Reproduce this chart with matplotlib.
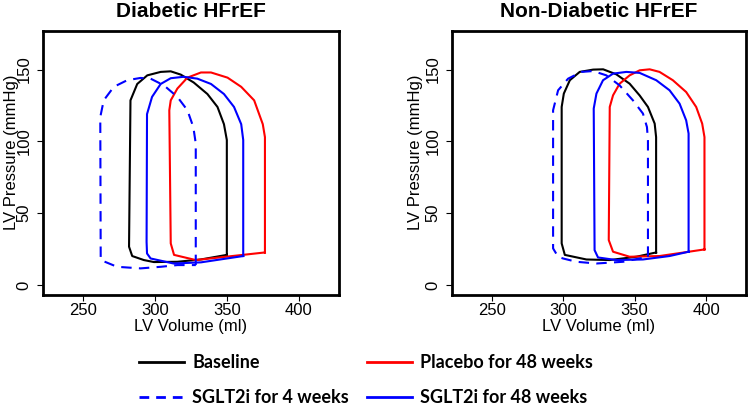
import matplotlib
matplotlib.use('Agg')
import matplotlib.pyplot as plt
from matplotlib.lines import Line2D

plt.rcParams['font.family'] = ['Liberation Sans', 'DejaVu Sans']

# LV pressure-volume loops (volume ml, pressure mmHg)
# each loop: end-diastole -> up the right side -> over the top -> down the left side -> along the bottom
dm_base_v = [350, 350, 348, 343.5, 336.5, 327, 318, 311, 304, 294.7, 287.7, 283, 282, 284.2, 292.3, 299.3, 315.6, 331.9, 350]
dm_base_p = [21, 101, 112, 124, 133, 141, 146.5, 148.8, 148.4, 146, 140, 128.6, 26.7, 20.2, 17.4, 16, 16.2, 17.8, 21]
dm_plac_v = [376.5, 376.5, 375, 369, 360, 350.5, 339, 332, 322.6, 315.6, 311, 310, 311, 313.3, 328.4, 376.5]
dm_plac_p = [22.7, 103, 112, 128.6, 138, 144.4, 148, 148, 144.4, 136.8, 128.6, 121.7, 29, 21, 17.4, 22.7]
dm_s48_v = [361.4, 361.4, 360, 355, 348, 339, 329.5, 320, 311, 304, 298, 294.5, 294.2, 294.5, 297, 313, 332, 361.4]
dm_s48_p = [20.2, 101, 112, 124, 133, 140, 143.7, 145, 144, 140, 131, 119, 30, 22, 18.5, 15, 15.8, 20.2]
dm_s4_v = [328.4, 328.4, 326.7, 322.6, 315.6, 306.3, 297, 290, 280.7, 271.4, 264.4, 262, 262.3, 273.7, 290, 304, 315.6, 328.4]
dm_s4_p = [13.9, 98.5, 110, 121.7, 131, 139, 143.7, 144.2, 142.6, 138, 128.6, 117, 17.4, 12.7, 11.6, 12.7, 13.9, 13.9]

nd_base_v = [365, 365, 364, 359.3, 353.5, 346.5, 337.2, 328, 321, 311.6, 304.7, 300.5, 299, 299, 301.2, 316.3, 332.6, 351.2, 365]
nd_base_p = [22.7, 103, 112.4, 124, 132, 140.2, 146.7, 150.2, 150, 148.4, 142.6, 133.3, 124, 29, 21, 17.8, 17.4, 19.7, 22.7]
nd_plac_v = [398.8, 398.8, 397.2, 393, 386, 376.7, 367.4, 360.5, 353.5, 346.5, 339.5, 334.9, 332.6, 331.9, 334.9, 346.5, 367.4, 398.8]
nd_plac_p = [24.8, 103, 112.4, 124, 134.4, 142.6, 148.4, 150.2, 149.5, 146, 140.2, 132.1, 124, 31.3, 23.2, 19.7, 20.2, 24.8]
nd_s48_v = [387.7, 387.7, 386, 381.4, 374.4, 365.1, 353.5, 344.2, 334.9, 327.9, 323.3, 321.4, 322, 324.4, 337.2, 355.8, 374.4, 387.7]
nd_s48_p = [23.2, 105.5, 114.7, 126.3, 135.6, 142.6, 147.7, 148.4, 147.2, 142.6, 133.3, 122.9, 24.3, 19.2, 17.4, 17.8, 20.2, 23.2]
nd_s4_v = [359.3, 359.3, 358.6, 355.8, 348.8, 339.5, 330.2, 321, 312.8, 303.5, 296.5, 293, 293, 296.5, 300, 309.3, 323.3, 341.9, 359.3]
nd_s4_p = [19.7, 100.8, 110, 119.4, 128.6, 139, 146, 149, 148.4, 143.7, 135.6, 121.7, 25.5, 19.7, 18.5, 16.2, 15, 16.2, 19.7]

titles = ['Diabetic HFrEF', 'Non-Diabetic HFrEF']
xticks = [250, 300, 350, 400]
yticks = [0, 50, 100, 150]
labels = ['Baseline', 'SGLT2i for 4 weeks', 'Placebo for 48 weeks', 'SGLT2i for 48 weeks']

dash = (0, (5, 3.5))
panels = [
    [(dm_base_v, dm_base_p, 'black', '-'), (dm_plac_v, dm_plac_p, 'red', '-'),
     (dm_s48_v, dm_s48_p, 'blue', '-'), (dm_s4_v, dm_s4_p, 'blue', dash)],
    [(nd_base_v, nd_base_p, 'black', '-'), (nd_plac_v, nd_plac_p, 'red', '-'),
     (nd_s48_v, nd_s48_p, 'blue', '-'), (nd_s4_v, nd_s4_p, 'blue', dash)],
]

fig = plt.figure(figsize=(7.5, 4.11), dpi=100)
axes = [fig.add_axes([0.057, 0.282, 0.395, 0.643]),
        fig.add_axes([0.602, 0.282, 0.393, 0.643])]
ylab_x = [-0.08, -0.097]

for ax, title, loops, lx in zip(axes, titles, panels, ylab_x):
    for v, p, c, ls in loops:
        ax.plot(v, p, color=c, linestyle=ls, lw=1.5)
    ax.set_xlim(222, 428)
    ax.set_ylim(-7, 177)
    ax.set_xticks(xticks)
    ax.set_yticks(yticks)
    ax.tick_params(length=4, width=0.8, labelsize=12)
    ax.tick_params(axis='x', pad=2)
    ax.tick_params(axis='y', pad=4)
    for lab in ax.get_yticklabels():
        lab.set_rotation(90)
        lab.set_va('center')
    for s in ax.spines.values():
        s.set_linewidth(2)
    ax.set_xlabel('LV Volume (ml)', fontsize=12)
    ax.xaxis.set_label_coords(0.5, -0.09)
    ax.set_ylabel('LV Pressure (mmHg)', fontsize=12)
    ax.yaxis.set_label_coords(lx, 0.54)
    ax.text(0.5, 1.072, title, transform=ax.transAxes, ha='center', va='center',
            fontsize=15, fontweight='bold')

handles = [Line2D([], [], color='black', lw=2),
           Line2D([], [], color='blue', lw=2, linestyle=(0, (3.5, 2.5))),
           Line2D([], [], color='red', lw=2),
           Line2D([], [], color='blue', lw=2)]
fig.legend(handles, labels, ncol=2, loc='center', bbox_to_anchor=(0.488, 0.075),
           frameon=False, borderpad=0, handlelength=2.5, handletextpad=0.45,
           columnspacing=1.0, labelspacing=1.0,
           prop={'family': 'Lato', 'weight': 'bold', 'size': 13})

plt.savefig('out.png')
